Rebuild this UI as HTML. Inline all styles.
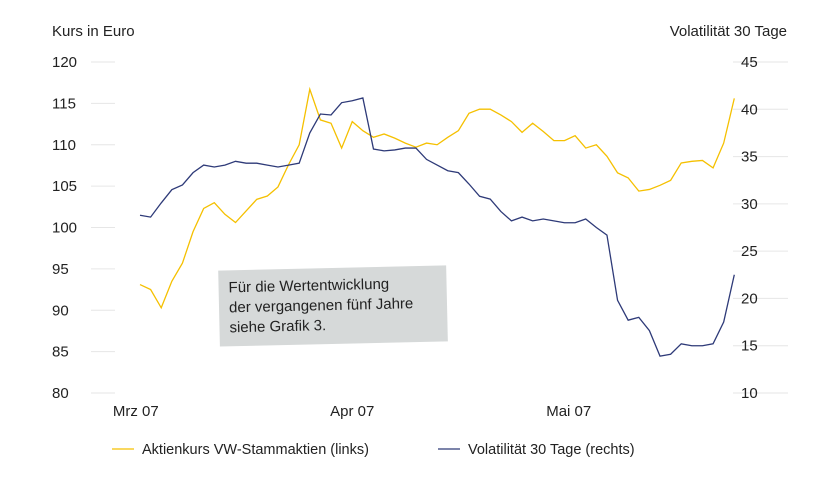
<!DOCTYPE html>
<html><head><meta charset="utf-8"><style>
body{margin:0;background:#fff;}
svg{display:block;font-family:"Liberation Sans",sans-serif;}
</style></head><body>
<svg id="chart" width="840" height="481" viewBox="0 0 840 481">
<text x="52" y="36" font-size="15" fill="#222">Kurs in Euro</text>
<text x="787" y="36" font-size="15" fill="#222" text-anchor="end">Volatilität 30 Tage</text>
<g id="grid"></g><g id="lines"></g>
<g transform="rotate(-1.3 332 305)">
<rect x="219" y="268" width="228" height="76" fill="#d6d9d9"/>
<text x="229" y="290" font-size="15" fill="#222">Für die Wertentwicklung</text>
<text x="229" y="310" font-size="15" fill="#222">der vergangenen fünf Jahre</text>
<text x="229" y="330" font-size="15" fill="#222">siehe Grafik 3.</text>
</g>
<g>
<line x1="112" y1="449" x2="134" y2="449" stroke="#f5c000" stroke-width="1.3"/>
<text x="142" y="454" font-size="14.5" fill="#222">Aktienkurs VW-Stammaktien (links)</text>
<line x1="438" y1="449" x2="460" y2="449" stroke="#2e3a78" stroke-width="1.3"/>
<text x="468" y="454" font-size="14.5" fill="#222">Volatilität 30 Tage (rechts)</text>
</g>
</svg>
<script>
const leftTicks=[80,85,90,95,100,105,110,115,120];
const rightTicks=[10,15,20,25,30,35,40,45];
const monthLabels=["Mrz 07","Apr 07","Mai 07"];
const monthIndex=[-0.4,20,40.4];
const stockPrice=[93.1,92.5,90.3,93.5,95.7,99.5,102.3,103.0,101.6,100.6,102.0,103.4,103.8,104.9,107.6,110.0,116.7,113.0,112.6,109.6,112.8,111.7,110.9,111.3,110.8,110.2,109.7,110.2,110.0,110.9,111.7,113.8,114.3,114.3,113.6,112.8,111.5,112.6,111.6,110.5,110.5,111.1,109.6,110.0,108.6,106.6,106.0,104.4,104.6,105.1,105.7,107.8,108.0,108.1,107.2,110.2,115.6];
const volatility=[28.8,28.6,30.1,31.5,32.0,33.3,34.1,33.9,34.1,34.5,34.3,34.3,34.1,33.9,34.1,34.3,37.5,39.5,39.4,40.7,40.9,41.2,35.8,35.6,35.7,35.9,35.9,34.7,34.1,33.5,33.3,32.1,30.8,30.5,29.2,28.2,28.6,28.2,28.4,28.2,28.0,28.0,28.4,27.5,26.7,19.8,17.7,18.0,16.6,13.9,14.1,15.2,15.0,15.0,15.2,17.5,22.5];
const NS="http://www.w3.org/2000/svg";
const n=stockPrice.length;
const xS=i=>140+i*(594.3/(n-1));
const yL=v=>393-(v-80)*(331/40);
const yR=v=>393-(v-10)*(331/35);
const grid=document.getElementById('grid'),lines=document.getElementById('lines');
function mk(t,a,p){const e=document.createElementNS(NS,t);for(const k in a)e.setAttribute(k,a[k]);p.appendChild(e);return e;}
leftTicks.forEach(v=>{
 const l=mk('line',{x1:91,x2:115,y1:yL(v),y2:yL(v),stroke:'#e6e6e6','stroke-width':1},grid);
 
 
 const t=mk('text',{x:52,y:yL(v)+5,'font-size':15,fill:'#222'},grid);t.textContent=v;
 
 
});
rightTicks.forEach(v=>{
 const l=mk('line',{x1:733,x2:788,y1:yR(v),y2:yR(v),stroke:'#e6e6e6','stroke-width':1},grid);
 
 
 const t=mk('text',{x:741,y:yR(v)+5,'font-size':15,fill:'#222'},grid);t.textContent=v;
 
 
});
monthLabels.forEach((m,i)=>{
 const t=mk('text',{x:xS(monthIndex[i]),y:416,'font-size':15,fill:'#222','text-anchor':'middle'},grid);t.textContent=m;
 
 
});
const p1=mk('polyline',{points:stockPrice.map((v,i)=>xS(i)+','+yL(v)).join(' '),fill:'none',stroke:'#f5c000','stroke-width':1.3},lines);


const p2=mk('polyline',{points:volatility.map((v,i)=>xS(i)+','+yR(v)).join(' '),fill:'none',stroke:'#2e3a78','stroke-width':1.3},lines);


</script>
</body></html>
